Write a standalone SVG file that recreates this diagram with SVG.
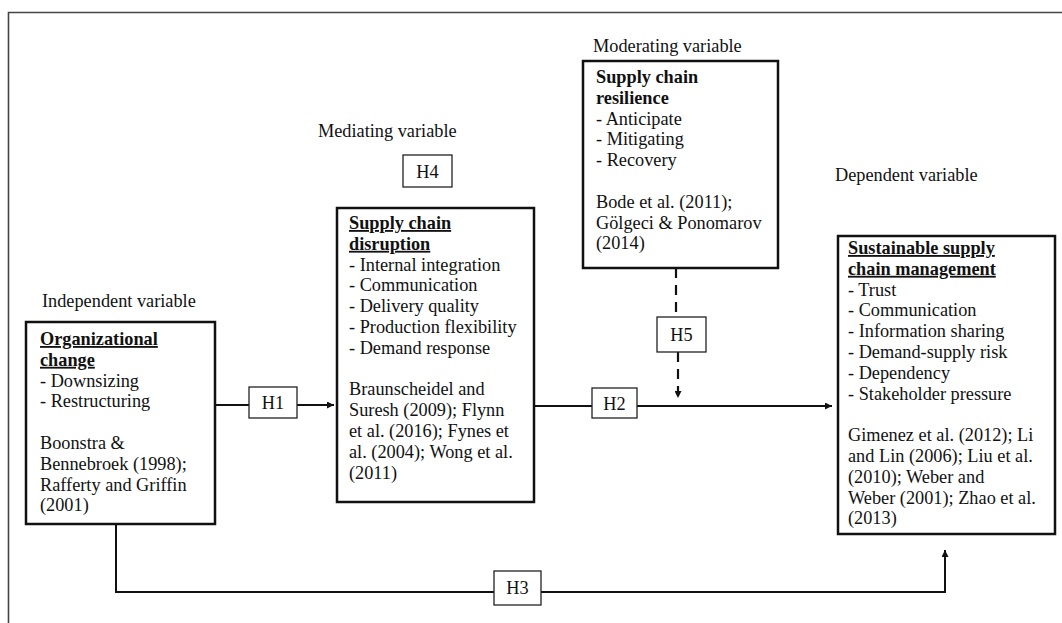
<svg xmlns="http://www.w3.org/2000/svg" width="1062" height="623" viewBox="0 0 1062 623">
<style>
text{font-family:"Liberation Serif","Times New Roman",serif;font-size:18.3px;fill:#111}
.b{font-weight:bold}
.u{text-decoration:underline}
.node{fill:#fff;stroke:#111;stroke-width:2.5}
.hb{fill:#fff;stroke:#222;stroke-width:1.3}
.c{fill:none;stroke:#111;stroke-width:2}
.d{fill:none;stroke:#111;stroke-width:2.2;stroke-dasharray:10 7}
.hc{text-anchor:middle}
</style>
<defs>
<marker id="ah" viewBox="0 0 10 10" refX="10" refY="5" markerWidth="9" markerHeight="7" markerUnits="userSpaceOnUse" orient="auto">
<path d="M0,0 L10,5 L0,10 z" fill="#111"/>
</marker>
</defs>
<rect width="1062" height="623" fill="#fff"/>
<path d="M8.5,623 V12.5 H1062" fill="none" stroke="#444" stroke-width="1.6"/>

<text x="42" y="307">Independent variable</text>
<text x="318" y="137">Mediating variable</text>
<text x="593" y="52">Moderating variable</text>
<text x="835" y="181">Dependent variable</text>

<g id="connectors">
<line class="c" x1="215" y1="405" x2="249" y2="405"/>
<line class="c" x1="297" y1="405" x2="334" y2="405" marker-end="url(#ah)"/>
<line class="c" x1="534" y1="406" x2="592" y2="406"/>
<line class="c" x1="637" y1="406" x2="832" y2="406" marker-end="url(#ah)"/>
<path class="c" d="M116,524 V592 H494"/>
<path class="c" d="M541,592 H945 V550" marker-end="url(#ah)"/>
<line class="d" x1="676" y1="268" x2="676" y2="317"/>
<line class="d" x1="678" y1="352" x2="678" y2="398" marker-end="url(#ah)"/>
</g>

<g id="h1"><rect class="hb" x="249" y="387" width="48" height="31"/><text class="hc" x="273" y="409">H1</text></g>
<g id="h2"><rect class="hb" x="592" y="388" width="45" height="30"/><text class="hc" x="614.5" y="410">H2</text></g>
<g id="h3"><rect class="hb" x="494" y="571" width="47" height="34"/><text class="hc" x="517.5" y="594">H3</text></g>
<g id="h4"><rect class="hb" x="403" y="155" width="49" height="32"/><text class="hc" x="427.5" y="178">H4</text></g>
<g id="h5"><rect class="hb" x="657" y="317" width="49" height="35"/><text class="hc" x="681.5" y="341">H5</text></g>

<g id="organizational-change">
<rect class="node" x="26" y="322" width="189" height="202"/>
<text x="40" y="345" class="b u">Organizational</text>
<text x="40" y="365.8" class="b u">change</text>
<text x="40" y="386.6">- Downsizing</text>
<text x="40" y="407.4">- Restructuring</text>
<text x="40" y="449">Boonstra &amp;</text>
<text x="40" y="469.8">Bennebroek (1998);</text>
<text x="40" y="490.6">Rafferty and Griffin</text>
<text x="40" y="511.4">(2001)</text>
</g>

<g id="supply-chain-disruption">
<rect class="node" x="337" y="208" width="197" height="294"/>
<text x="349" y="229" class="b u">Supply chain</text>
<text x="349" y="249.8" class="b u">disruption</text>
<text x="349" y="270.6">- Internal integration</text>
<text x="349" y="291.4">- Communication</text>
<text x="349" y="312.2">- Delivery quality</text>
<text x="349" y="333">- Production flexibility</text>
<text x="349" y="353.8">- Demand response</text>
<text x="349" y="395.4">Braunscheidel and</text>
<text x="349" y="416.2">Suresh (2009); Flynn</text>
<text x="349" y="437">et al. (2016); Fynes et</text>
<text x="349" y="457.8">al. (2004); Wong et al.</text>
<text x="349" y="478.6">(2011)</text>
</g>

<g id="supply-chain-resilience">
<rect class="node" x="583" y="61" width="195" height="207"/>
<text x="596" y="83" class="b">Supply chain</text>
<text x="596" y="103.8" class="b">resilience</text>
<text x="596" y="124.6">- Anticipate</text>
<text x="596" y="145.4">- Mitigating</text>
<text x="596" y="166.2">- Recovery</text>
<text x="596" y="207.8">Bode et al. (2011);</text>
<text x="596" y="228.6">Gölgeci &amp; Ponomarov</text>
<text x="596" y="249.4">(2014)</text>
</g>

<g id="sustainable-scm">
<rect class="node" x="838" y="236" width="217" height="298"/>
<text x="848" y="254" class="b u">Sustainable supply</text>
<text x="848" y="274.8" class="b u">chain management</text>
<text x="848" y="295.6">- Trust</text>
<text x="848" y="316.4">- Communication</text>
<text x="848" y="337.2">- Information sharing</text>
<text x="848" y="358">- Demand-supply risk</text>
<text x="848" y="378.8">- Dependency</text>
<text x="848" y="399.6">- Stakeholder pressure</text>
<text x="848" y="441.2">Gimenez et al. (2012); Li</text>
<text x="848" y="462">and Lin (2006); Liu et al.</text>
<text x="848" y="482.8">(2010); Weber and</text>
<text x="848" y="503.6">Weber (2001); Zhao et al.</text>
<text x="848" y="524.4">(2013)</text>
</g>
</svg>
